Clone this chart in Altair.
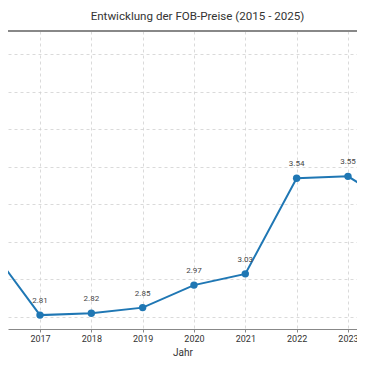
import altair as alt
import pandas as pd

years = [2015, 2016, 2017, 2018, 2019, 2020, 2021, 2022, 2023, 2024, 2025]
prices = [4.27, 3.18, 2.81, 2.82, 2.85, 2.97, 3.03, 3.54, 3.55, 3.38, 3.40]
y_grid = [2.8, 3.0, 3.2, 3.4, 3.6, 3.8, 4.0, 4.2]

df = pd.DataFrame({"Jahr": years, "Preis": prices})
df["label"] = [f"{v:.2f}" for v in prices]

W, H = 349, 298
blue = "#1f77b4"

xs = alt.Scale(domain=[2016.3766, 2023.176], nice=False, zero=False)
ys = alt.Scale(domain=[2.736, 4.325], nice=False, zero=False)

x_enc = alt.X("Jahr:Q", scale=xs, axis=alt.Axis(
    values=years, format="d", title="Jahr", grid=True,
    gridDash=[3, 3], gridColor="#d0d0d0", gridWidth=0.8,
    domainColor="#888888", domainWidth=1.2, tickColor="#888888", tickSize=3,
    labelFontSize=9, labelColor="#333333", labelFont="Roboto", labelPadding=2,
    titleFontSize=10, titleFont="Roboto", titleFontWeight="normal",
    titleColor="#333333", titlePadding=4))
y_enc = alt.Y("Preis:Q", scale=ys, axis=alt.Axis(
    values=y_grid, labels=False, ticks=False, domain=False, title=None,
    grid=True, gridDash=[3, 3], gridColor="#d0d0d0", gridWidth=0.8))

base = alt.Chart(df)
line = base.mark_line(color=blue, strokeWidth=2, clip=True).encode(x=x_enc, y=y_enc)
pts = base.mark_circle(color=blue, size=55, opacity=1, clip=True).encode(x="Jahr:Q", y="Preis:Q")
txt = base.mark_text(dy=-14, fontSize=8, color="#444444", font="Roboto").encode(
    x="Jahr:Q", y="Preis:Q", text="label:N")
top = alt.Chart(df).mark_rule(color="#888888", strokeWidth=1.2).encode(
    x=alt.value(0), x2=alt.value(W), y=alt.value(0))

chart = alt.layer(line, pts, txt, top).properties(
    width=W, height=H,
    title=alt.TitleParams("Entwicklung der FOB-Preise (2015 - 2025)", fontSize=11.6,
                          font="Roboto", fontWeight="normal", color="#333333",
                          anchor="middle", offset=1, dx=15),
    autosize=alt.AutoSizeParams(type="none"),
    padding={"left": 0, "right": 0, "top": 23, "bottom": 27},
).configure_view(stroke=None)

chart.save("out.html", embed_options={"renderer": "svg", "actions": False})
